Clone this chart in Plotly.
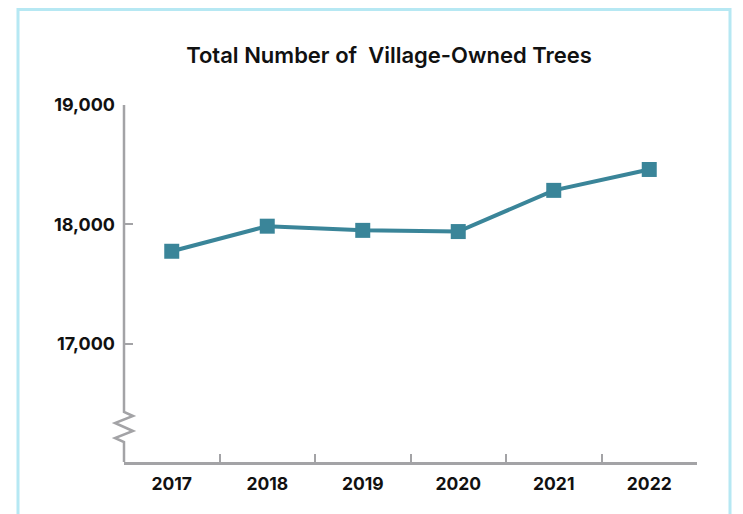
import plotly.graph_objects as go

years = ["2017", "2018", "2019", "2020", "2021", "2022"]
trees = [17775, 17985, 17950, 17940, 18285, 18460]
y_ticks = [17000, 18000, 19000]
y_tick_labels = ["17,000", "18,000", "19,000"]

LINE = "#3a8599"
AXIS = "#a3a3a6"
BORDER = "#b6e8f3"
FONT = "Inter"

OFF = 8  # page body margin
W, H = 743 - OFF, 514 - OFF
L, R, T, B = 124 - OFF, 46, 105 - OFF, 52
pw, ph = W - L - R, H - T - B

def fx(px):
    return (px - OFF - L) / pw

def fy(py):
    return (H - B - (py - OFF)) / ph

fig = go.Figure()
fig.add_trace(go.Scatter(
    x=years, y=trees, mode="lines+markers",
    line=dict(color=LINE, width=4),
    marker=dict(symbol="square", size=15, color=LINE),
    cliponaxis=False, hoverinfo="skip", showlegend=False,
))

# y axis line with break zigzag
pts = [(124, 105), (124, 412), (133, 416), (115, 423), (133, 431), (115, 438), (124, 442), (124, 462)]
path = "M " + " L ".join(f"{fx(a):.5f},{fy(b):.5f}" for a, b in pts)
shapes = [
    dict(type="path", xref="paper", yref="paper", path=path,
         line=dict(color=AXIS, width=2.5), layer="above"),
    dict(type="rect", xref="paper", yref="paper",
         x0=fx(18), x1=fx(730), y0=fy(540), y1=fy(9.5),
         line=dict(color=BORDER, width=3), fillcolor="rgba(0,0,0,0)", layer="below"),
]

fig.update_layout(
    width=W, height=H,
    margin=dict(l=L, r=R, t=T, b=B),
    paper_bgcolor="white", plot_bgcolor="white",
    font=dict(family=FONT, color="#111111"),
    title=dict(text="Total Number of  Village-Owned Trees", x=(389 - OFF) / W, xref="container",
               xanchor="center", y=1 - (55 - OFF) / H, yanchor="middle",
               font=dict(family=FONT, size=22, weight=600, color="#111111")),
    shapes=shapes,
    xaxis=dict(type="category", range=[-0.5, 5.5], showline=True, linecolor=AXIS, linewidth=2.5,
               ticks="inside", tickson="boundaries", ticklen=8, tickwidth=2, tickcolor=AXIS,
               showgrid=False, zeroline=False, ticklabelstandoff=4,
               tickfont=dict(family=FONT, size=17.5, weight=700, color="#111111")),
    yaxis=dict(range=[16010, 19000], tickvals=y_ticks, ticktext=y_tick_labels,
               showline=False, ticks="inside", ticklen=9, tickwidth=2, tickcolor=AXIS,
               showgrid=False, zeroline=False, ticklabelstandoff=8,
               tickfont=dict(family=FONT, size=18, weight=700, color="#111111")),
)

fig.write_html("out.html")
